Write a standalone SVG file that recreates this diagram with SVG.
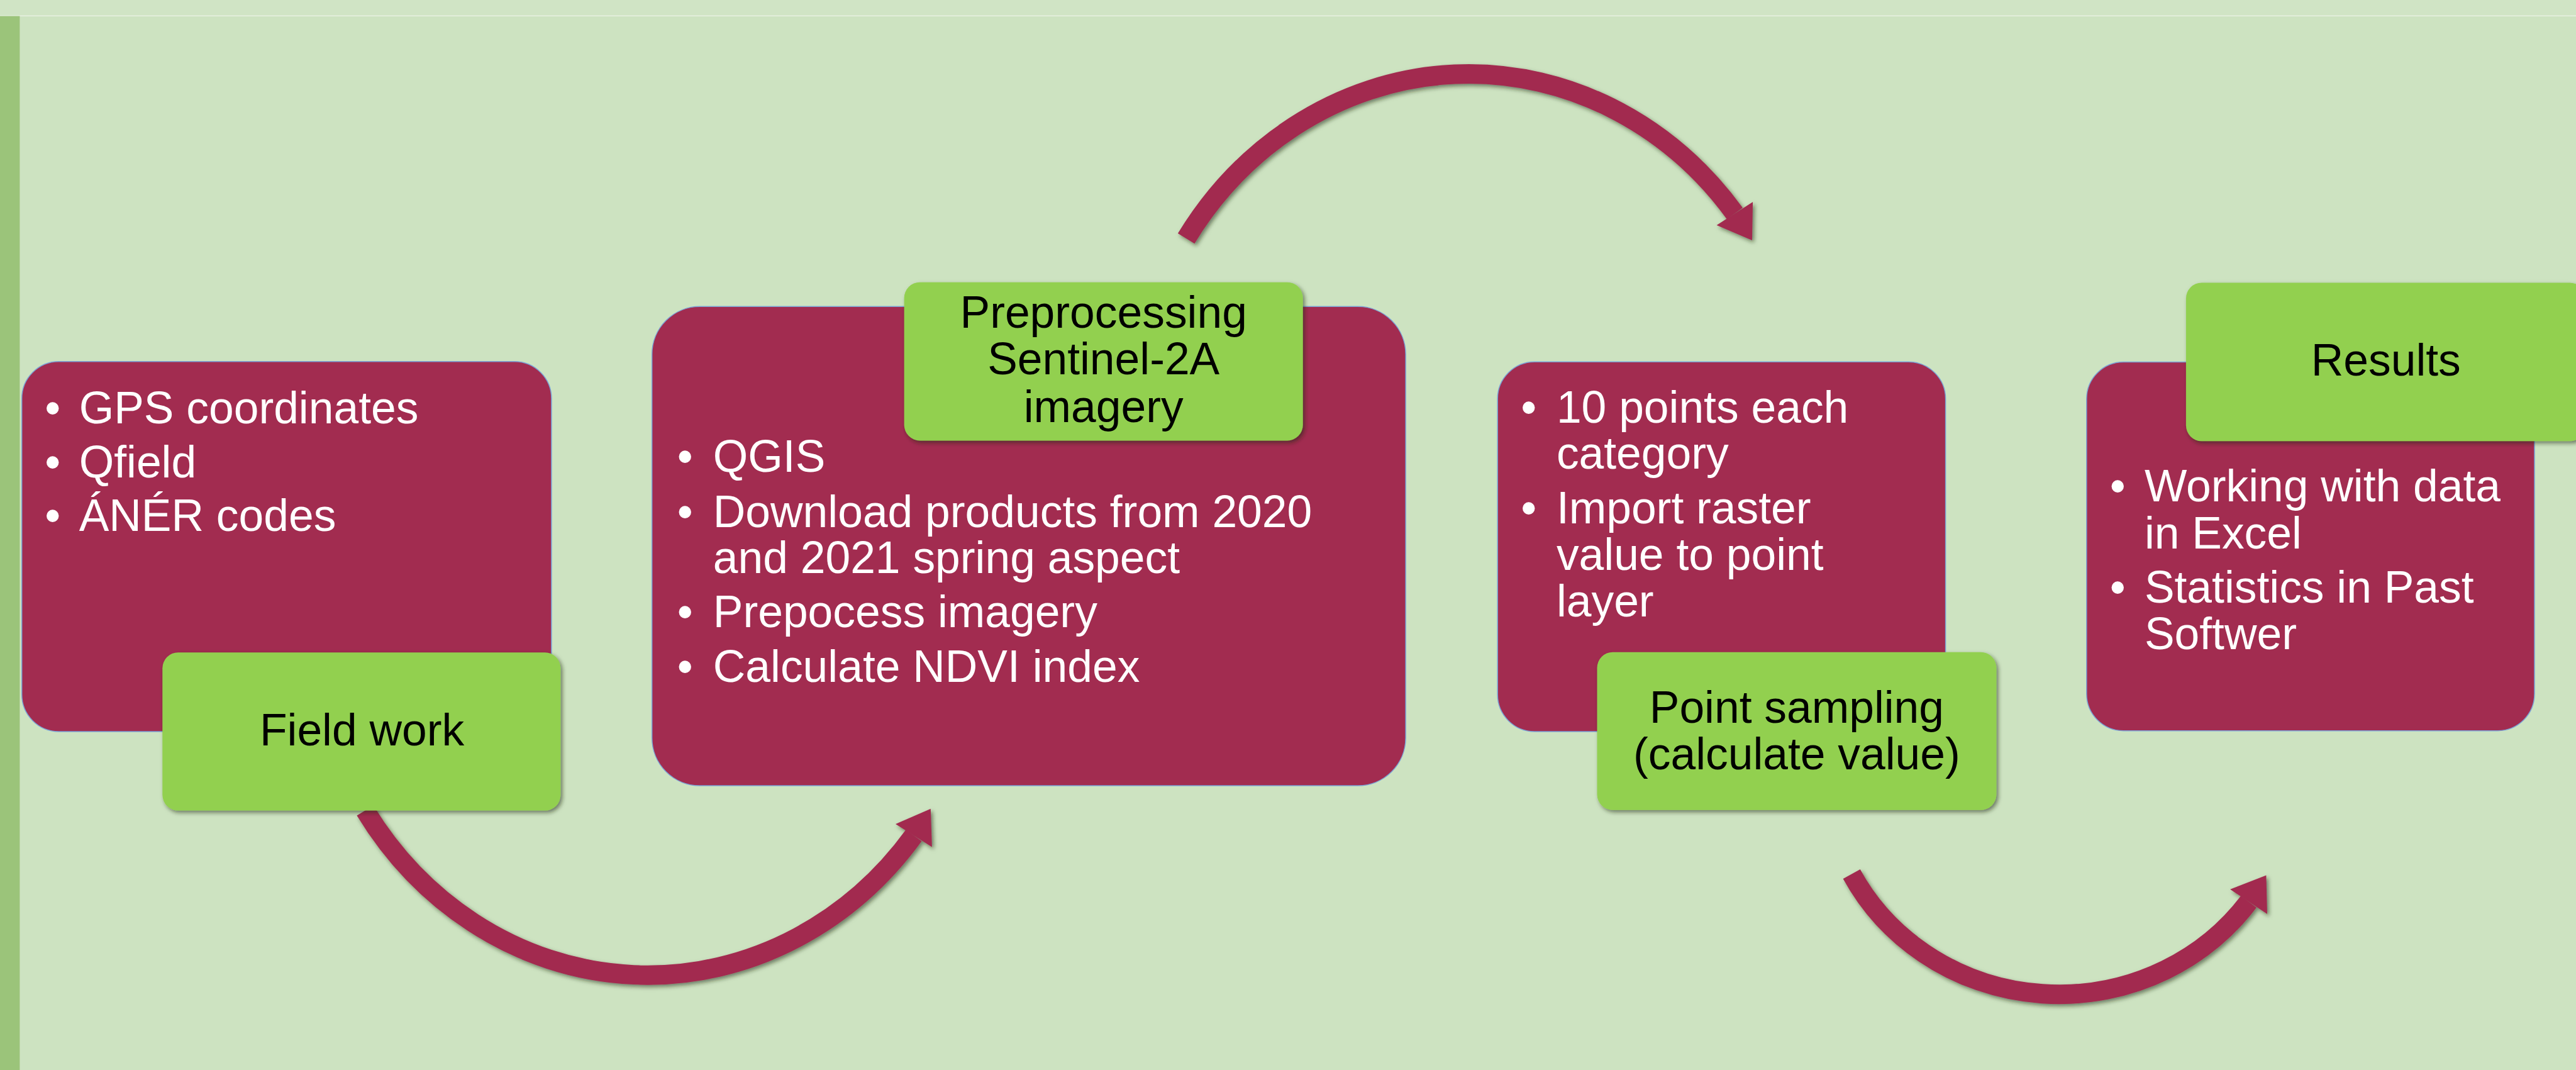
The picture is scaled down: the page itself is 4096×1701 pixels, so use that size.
<svg xmlns="http://www.w3.org/2000/svg" width="4096" height="1701" viewBox="0 0 4096 1701">
  <defs>
    <filter id="sh" x="-10%" y="-10%" width="130%" height="140%">
      <feDropShadow dx="3" dy="3.5" stdDeviation="3" flood-color="#1e2a14" flood-opacity="0.55"/>
    </filter>
    <style>
      .mar { fill: #A22C50; stroke: #7BA3D6; stroke-width: 1.5; }
      .grn { fill: #92D050; filter: url(#sh); }
      .wt { font-family: "Liberation Sans", Arial, sans-serif; font-size: 71.4px; fill: #FFFFFF; }
      .bl { font-family: "Liberation Sans", Arial, sans-serif; font-size: 71.4px; fill: #000000; text-anchor: middle; }
      .bu { text-anchor: middle; }
      .shaft { fill: none; stroke: #A22C50; stroke-width: 31; stroke-linecap: butt; }
      .head { fill: #A22C50; }
    </style>
  </defs>

  <!-- background -->
  <rect x="0" y="0" width="4096" height="1701" fill="#CDE3C1"/>
  <rect x="0" y="0" width="4096" height="25" fill="#D0E4C5"/>
  <line x1="0" y1="25.2" x2="4096" y2="25.2" stroke="#E8F1E2" stroke-width="1.5"/>
  <rect x="0" y="25.5" width="31.4" height="1676" fill="#9BC47A"/>

  <!-- connectors -->
  <g id="connectors">
    <g id="arrow-fieldwork-preprocessing" filter="url(#sh)">
      <path class="shaft" d="M 580.65 1288.54 A 537.5 579.6 0 0 0 1452.96 1328.23"/>
      <polygon class="head" points="1424.0,1309.9 1479.8,1285.8 1481.9,1346.6"/>
    </g>
    <g id="arrow-preprocessing-sampling" filter="url(#sh)">
      <path class="shaft" d="M 1886.1 379.1 A 537.5 579.6 0 0 1 2758.4 339.4"/>
      <polygon class="head" points="2787.1,320.9 2785.9,382.0 2729.6,358.0"/>
    </g>
    <g id="arrow-sampling-results" filter="url(#sh)">
      <path class="shaft" d="M 2944.2 1389.5 A 372.5 357.0 0 0 0 3575.6 1433.4"/>
      <polygon class="head" points="3546.1,1413.8 3603.4,1391.5 3605.0,1453.0"/>
    </g>
  </g>

  <!-- node 1: Field work -->
  <g id="node-fieldwork">
    <rect class="mar" x="34.7" y="574.7" width="842.2" height="588.2" rx="58.8" ry="58.8"/>
    <text class="wt bu" x="83.8" y="672.6">•</text>
    <text class="wt" x="125.7" y="672.6">GPS coordinates</text>
    <text class="wt bu" x="83.8" y="758.8">•</text>
    <text class="wt" x="125.7" y="758.8">Qfield</text>
    <text class="wt bu" x="83.8" y="844.1">•</text>
    <text class="wt" x="125.7" y="844.1">ÁNÉR codes</text>
    <rect class="grn" x="258.3" y="1037.2" width="633.1" height="251.4" rx="25" ry="25"/>
    <text class="bl" x="575.6" y="1184.5">Field work</text>
  </g>

  <!-- node 2: Preprocessing -->
  <g id="node-preprocessing">
    <rect class="mar" x="1036.7" y="487.3" width="1198.4" height="761.8" rx="76" ry="76"/>
    <text class="wt bu" x="1089.2" y="749.6">•</text>
    <text class="wt" x="1133.8" y="749.6">QGIS</text>
    <text class="wt bu" x="1089.2" y="837.8">•</text>
    <text class="wt" x="1133.8" y="837.8">Download products from 2020</text>
    <text class="wt" x="1133.8" y="911.2">and 2021 spring aspect</text>
    <text class="wt bu" x="1089.2" y="996.8">•</text>
    <text class="wt" x="1133.8" y="996.8">Prepocess imagery</text>
    <text class="wt bu" x="1089.2" y="1083.9">•</text>
    <text class="wt" x="1133.8" y="1083.9">Calculate NDVI index</text>
    <rect class="grn" x="1437.7" y="448.7" width="634" height="251.7" rx="25" ry="25"/>
    <text class="bl" x="1754.7" y="520.8">Preprocessing</text>
    <text class="bl" x="1754.7" y="595.4">Sentinel-2A</text>
    <text class="bl" x="1754.7" y="670.8">imagery</text>
  </g>

  <!-- node 3: Point sampling -->
  <g id="node-sampling">
    <rect class="mar" x="2381.2" y="575.3" width="712.4" height="587.6" rx="58.8" ry="58.8"/>
    <text class="wt bu" x="2430.7" y="671.7">•</text>
    <text class="wt" x="2474.9" y="671.7">10 points each</text>
    <text class="wt" x="2474.9" y="745.3">category</text>
    <text class="wt bu" x="2430.7" y="832.4">•</text>
    <text class="wt" x="2474.9" y="832.4">Import raster</text>
    <text class="wt" x="2474.9" y="906.1">value to point</text>
    <text class="wt" x="2474.9" y="979.7">layer</text>
    <rect class="grn" x="2539.5" y="1036.7" width="634.9" height="251" rx="25" ry="25"/>
    <text class="bl" x="2856.9" y="1148.5">Point sampling</text>
    <text class="bl" x="2856.9" y="1223.1">(calculate value)</text>
  </g>

  <!-- node 4: Results -->
  <g id="node-results">
    <rect class="mar" x="3317.8" y="575.6" width="712.2" height="586.1" rx="58.6" ry="58.6"/>
    <text class="wt bu" x="3367.2" y="796.5">•</text>
    <text class="wt" x="3409.9" y="796.5">Working with data</text>
    <text class="wt" x="3409.9" y="871.6">in Excel</text>
    <text class="wt bu" x="3367.2" y="958.2">•</text>
    <text class="wt" x="3409.9" y="958.2">Statistics in Past</text>
    <text class="wt" x="3409.9" y="1031.8">Softwer</text>
    <rect class="grn" x="3475.9" y="449.4" width="635" height="251.9" rx="25" ry="25"/>
    <text class="bl" x="3793.8" y="597.2">Results</text>
  </g>
</svg>
